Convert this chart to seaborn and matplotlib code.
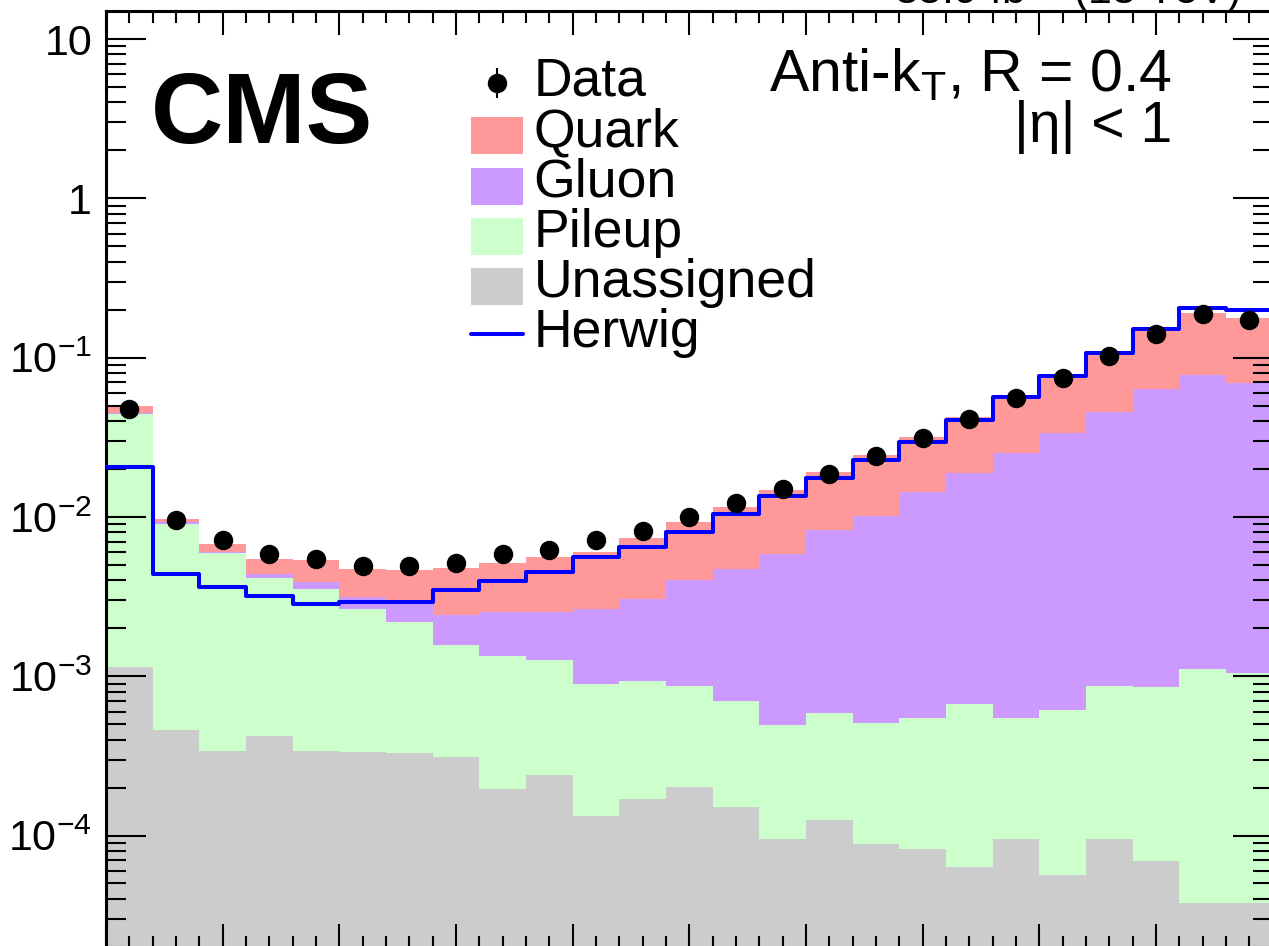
import numpy as np
import pandas as pd
import matplotlib
matplotlib.use('Agg')
import matplotlib.pyplot as plt
import matplotlib.patches as mpatches
from matplotlib.lines import Line2D
from matplotlib.container import ErrorbarContainer
from matplotlib.legend_handler import HandlerPatch, HandlerErrorbar
from matplotlib.ticker import FixedLocator, LogLocator, MultipleLocator, FuncFormatter, NullFormatter
import seaborn as sns

# 25 bins between 0 and 1
bin_edges = list(np.linspace(0, 1, 26))
bin_centers = [0.5 * (a + b) for a, b in zip(bin_edges[:-1], bin_edges[1:])]

# stacked simulation components (per bin)
quark = [0.0050, 0.00030, 0.00071, 0.00106, 0.00147, 0.00157, 0.00163, 0.00236, 0.00264,
         0.00309, 0.00335, 0.00432, 0.00531, 0.00678, 0.00888, 0.01095, 0.01427, 0.01741,
         0.02342, 0.02993, 0.0414, 0.0577, 0.0828, 0.1119, 0.1082]
gluon = [0.0008, 0.00034, 0.00011, 0.00024, 0.00038, 0.00052, 0.00081, 0.00085, 0.00117,
         0.00127, 0.00176, 0.00212, 0.00315, 0.00401, 0.00539, 0.00768, 0.00958, 0.01378,
         0.01811, 0.02452, 0.03319, 0.04483, 0.06265, 0.07669, 0.06795]
pileup = [0.0430, 0.00856, 0.00557, 0.00372, 0.00317, 0.00231, 0.00187, 0.00126, 0.00115,
          0.00103, 0.00076, 0.000759, 0.000666, 0.000544, 0.000399, 0.000461, 0.000418,
          0.000467, 0.000606, 0.000454, 0.000556, 0.000773, 0.000786, 0.001076, 0.001009]
unassigned = [0.00114, 0.00046, 0.000341, 0.000421, 0.000341, 0.000334, 0.000328, 0.00031,
              0.000197, 0.00024, 0.000133, 0.00017, 0.000202, 0.000152, 0.0000951, 0.000126,
              0.0000884, 0.0000823, 0.0000634, 0.0000951, 0.0000567, 0.0000949, 0.0000695,
              0.0000379, 0.0000379]

# data points and Herwig prediction
data_vals = [0.0476, 0.00956, 0.00716, 0.00585, 0.00542, 0.00492, 0.00492, 0.00511, 0.00581,
             0.00617, 0.00716, 0.00816, 0.01003, 0.01223, 0.01497, 0.0186, 0.02412, 0.03114,
             0.0410, 0.0554, 0.0748, 0.1028, 0.140, 0.187, 0.172]
herwig = [0.0207, 0.00438, 0.00361, 0.00320, 0.00284, 0.00294, 0.00294, 0.00348, 0.00396,
          0.00453, 0.00558, 0.00650, 0.00800, 0.01038, 0.01353, 0.01763, 0.02276, 0.02965,
          0.0406, 0.0563, 0.0770, 0.1069, 0.1505, 0.2039, 0.1990]

comp_names = ['Quark', 'Gluon', 'Pileup', 'Unassigned']
comp_vals = [quark, gluon, pileup, unassigned]
comp_colors = {'Quark': '#ff9999', 'Gluon': '#cc99ff', 'Pileup': '#ccffcc', 'Unassigned': '#cccccc'}

y_major_ticks = [1e-4, 1e-3, 1e-2, 1e-1, 1, 10]

stack_df = pd.concat([pd.DataFrame({'x': bin_centers, 'w': v, 'comp': n})
                      for n, v in zip(comp_names, comp_vals)], ignore_index=True)
herwig_df = pd.DataFrame({'x': bin_centers, 'w': herwig})

sns.set_theme(style='ticks', rc={'text.color': 'black', 'axes.edgecolor': 'black',
                                 'xtick.color': 'black', 'ytick.color': 'black',
                                 'axes.labelcolor': 'black'})
plt.rcParams['font.family'] = ['Liberation Sans', 'DejaVu Sans']
plt.rcParams['mathtext.fontset'] = 'custom'
plt.rcParams['mathtext.rm'] = 'Liberation Sans'
plt.rcParams['mathtext.it'] = 'Liberation Sans:italic'
plt.rcParams['mathtext.bf'] = 'Liberation Sans:bold'

W, H = 1269, 946
fig = plt.figure(figsize=(W / 100, H / 100), dpi=100)
ax = fig.add_axes([106 / W, -2 / H, 1166.7 / W, 937 / H])
ax.set_yscale('log')

sns.histplot(data=stack_df, x='x', weights='w', hue='comp', hue_order=comp_names,
             multiple='stack', bins=bin_edges, element='step', fill=True, alpha=1,
             linewidth=0, palette=comp_colors, legend=False, ax=ax)

sns.histplot(data=herwig_df, x='x', weights='w', bins=bin_edges, element='step', fill=False,
             color='#0000ff', linewidth=2.9, ax=ax, zorder=4)

data_plot = ax.errorbar(bin_centers, data_vals, yerr=0, fmt='o', color='black', ms=13,
                        elinewidth=1.5, capsize=0, zorder=5)

ax.set_xlim(0, 1)
ax.set_ylim(1.967e-5, 15.0)
ax.set_xlabel('')
ax.set_ylabel('')

# ROOT-like ticks
ax.xaxis.set_major_locator(MultipleLocator(0.1))
ax.xaxis.set_minor_locator(MultipleLocator(0.02))
ax.yaxis.set_major_locator(FixedLocator(y_major_ticks))
ax.yaxis.set_minor_locator(LogLocator(base=10, subs=np.arange(2, 10), numticks=20))
ax.yaxis.set_minor_formatter(NullFormatter())


def log_label(v, pos):
    e = int(round(np.log10(v)))
    if e == 1:
        return '10'
    if e == 0:
        return '1'
    return r'$\mathregular{10^{%d}}$' % e


ax.yaxis.set_major_formatter(FuncFormatter(log_label))
ax.tick_params(axis='both', which='both', direction='in', top=True, right=True, width=1.5,
               color='black', labelcolor='black')
ax.tick_params(axis='x', which='major', length=17.3, labelbottom=False)
ax.tick_params(axis='x', which='minor', length=8.6)
ax.tick_params(axis='y', which='major', length=28.8, labelsize=31, pad=10)
ax.tick_params(axis='y', which='minor', length=14.4)
for s in ax.spines.values():
    s.set_linewidth(2.2)
    s.set_color('black')
    s.set_visible(True)
ax.set_axisbelow(False)


# legend
def legend_box(legend, orig_handle, xdescent, ydescent, width, height, fontsize):
    return mpatches.Rectangle((-xdescent, -0.15 * fontsize), width, 0.69 * fontsize)


handles = [data_plot] + [mpatches.Patch(facecolor=comp_colors[n], edgecolor='none')
                         for n in comp_names] + [Line2D([], [], color='#0000ff', lw=2.9)]
labels = ['Data'] + comp_names + ['Herwig']
ax.legend(handles, labels, loc='upper left', bbox_to_anchor=(471 / W, 1 - 57 / H),
          bbox_transform=fig.transFigure, frameon=False, fontsize=38.5, borderpad=0,
          borderaxespad=0, handlelength=0.97, handleheight=0.0, handletextpad=0.2,
          labelspacing=0.005,
          handler_map={mpatches.Patch: HandlerPatch(patch_func=legend_box),
                       ErrorbarContainer: HandlerErrorbar(yerr_size=0.28)})

# texts
fig.text(151 / W, 1 - 143 / H, 'CMS', fontsize=72, fontweight='bold', ha='left', va='baseline')
fig.text(1172 / W, 1 - 92 / H, r'Anti-k$_{\mathregular{T}}$, R = 0.4', fontsize=42.5,
         ha='right', va='baseline')
fig.text(1172 / W, 1 - 141.7 / H, '|η| < 1', fontsize=41, ha='right', va='baseline')
fig.text(1240 / W, 1 - 4 / H, r'35.9 fb$^{\mathregular{-1}}$ (13 TeV)', fontsize=31,
         ha='right', va='baseline')

fig.savefig('out.png', dpi=100)
